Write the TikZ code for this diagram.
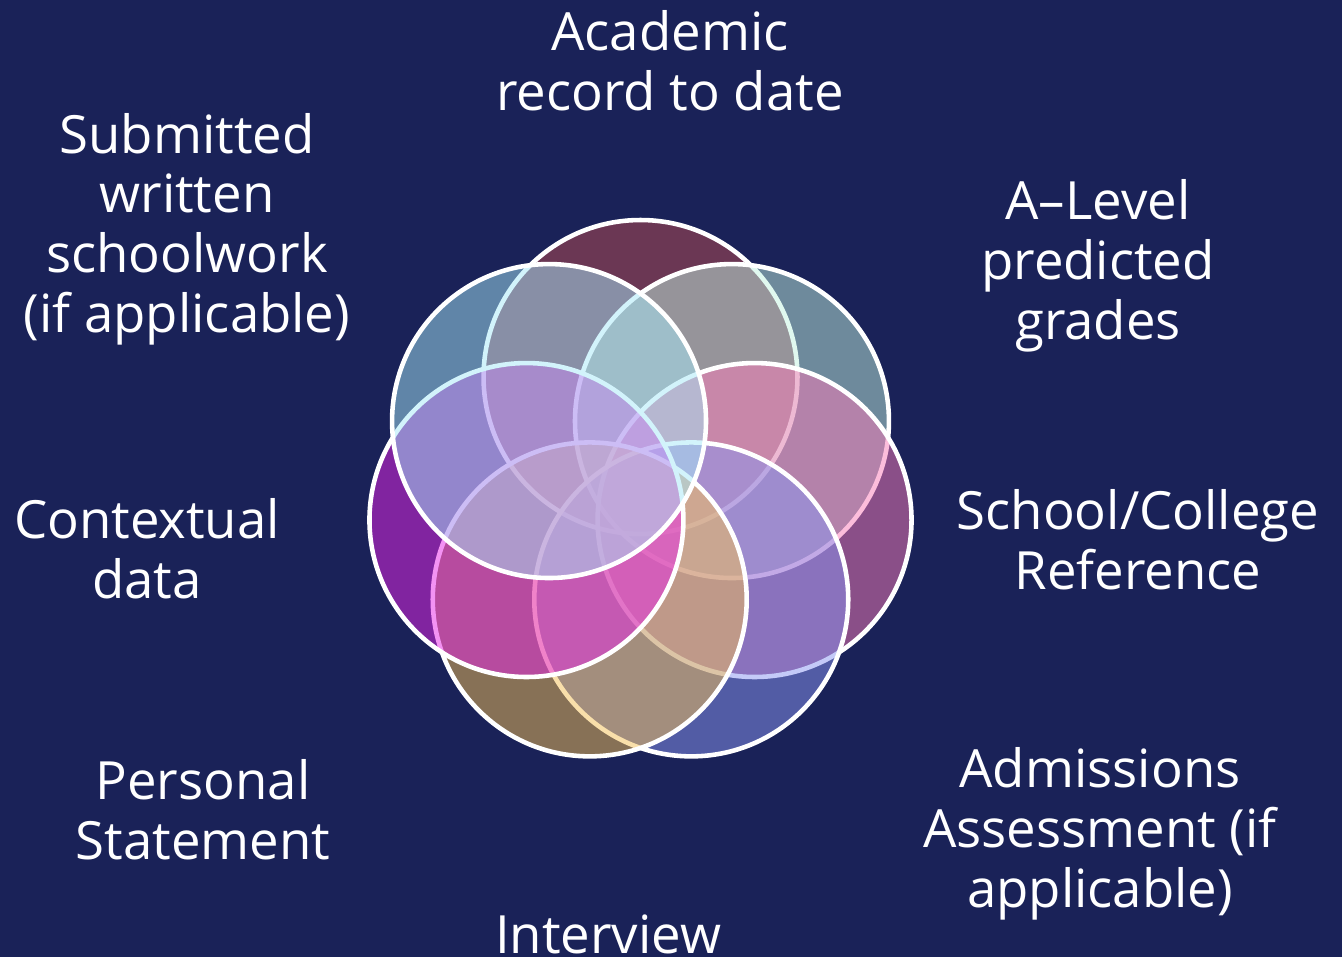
\documentclass[tikz,border=0pt]{standalone}
\usepackage{fontspec}
\setmainfont{Open Sans}
\usepackage{tikz}
\usetikzlibrary{positioning}

\definecolor{navybg}{HTML}{1A2258}
\definecolor{maroonp}{HTML}{BC4C52}
\definecolor{mintp}{HTML}{C2F2E0}
\definecolor{pinkp}{HTML}{FA7CB8}
\definecolor{bluep}{HTML}{8A96F2}
\definecolor{goldp}{HTML}{F4C056}
\definecolor{magentap}{HTML}{E826E8}
\definecolor{skyp}{HTML}{A6E8F8}

\tikzset{
  petal/.style={circle, draw=white, line width=2.6pt, minimum size=6.28cm,
    inner sep=0pt, fill opacity=0.5},
  factor/.style={text=white, align=center, inner sep=0pt,
    font=\fontsize{30}{34}\selectfont}
}

\begin{document}
\begin{tikzpicture}[x=0.02cm, y=0.02cm]
  \fill[navybg] (0,0) rectangle (1342,957);
  \useasboundingbox (0,0) rectangle (1342,957);

  % seven overlapping circles, drawn clockwise from the top
  \begin{scope}[shift={(640.5,463)}]
    \foreach \col [count=\i, evaluate=\i as \ang using 90-(\i-1)*360/7]
        in {maroonp, mintp, pinkp, bluep, goldp, magentap, skyp} {
      \node [petal, fill=\col] (petal\i) at (\ang:117) {};
    }
  \end{scope}

  \node (academic) [factor] at (670,896) {Academic\\record to date};
  \node (alevel) [factor] at (1098,691) {A–Level\\predicted\\grades};
  \node (reference) [factor] at (1138,417) {School/College\\Reference};
  \node (admissions) [factor] at (1100,123) {Admissions\\Assessment (if\\applicable)};
  \node (interview) [factor] at (608,23) {Interview};
  \node (personal) [factor] at (203,147) {Personal\\Statement};
  \node (contextual) [factor] at (147,408) {Contextual\\data};
  \node (submitted) [factor] at (187,728) {Submitted\\written\\schoolwork\\(if applicable)};
\end{tikzpicture}
\end{document}
